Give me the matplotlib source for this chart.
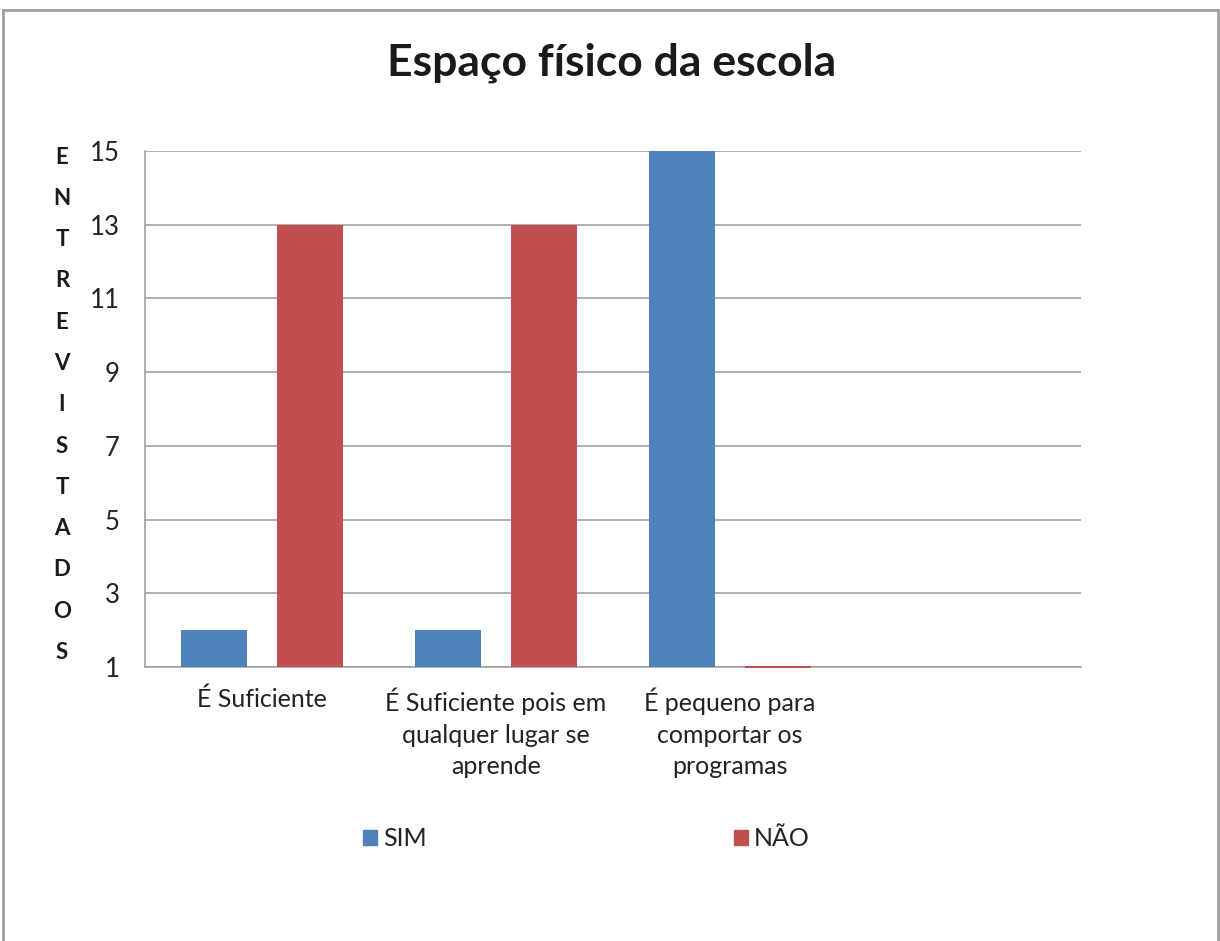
import numpy as np
import matplotlib
matplotlib.use('Agg')
import matplotlib.pyplot as plt
from matplotlib.lines import Line2D
from matplotlib.patches import Patch

plt.rcParams['font.family'] = ['Lato', 'DejaVu Sans']

categories = ['É Suficiente',
              'É Suficiente pois em\nqualquer lugar se\naprende',
              'É pequeno para\ncomportar os\nprogramas',
              '']
sim = [2, 2, 15, np.nan]
nao = [13, 13, 1, np.nan]
series_names = ['SIM', 'NÃO']
yticks = [1, 3, 5, 7, 9, 11, 13, 15]
ylabel = 'ENTREVISTADOS'

blue = '#4F81BD'
red = '#C0504D'
grid = '#9a9a9a'

fig = plt.figure(figsize=(12.2, 9.41), dpi=100)
ax = fig.add_axes([145/1220, 1-667/941, 936/1220, 516/941])

x = np.arange(len(categories))
w = 0.282
off = 0.207
base = 1
ax.bar(x - off, np.array(sim) - base, w, bottom=base, color=blue, zorder=3)
# zero-height bars show as a thin line, like Excel does
lw = [1.5 if v == base else 0 for v in nao]
ax.bar(x + off, np.array(nao) - base, w, bottom=base, color=red, zorder=3,
       edgecolor=red, linewidth=lw, clip_on=False)

ax.set_xlim(-0.5, len(categories) - 0.5)
ax.set_ylim(1, 15)
ax.set_yticks(yticks)
ax.set_xticks(x)
ax.set_xticklabels(categories, fontsize=18, color='#222222', linespacing=1.44,
                   va='top')
ax.tick_params(axis='x', length=0, pad=15)
ax.tick_params(axis='y', length=0, pad=18, labelsize=18.5, labelcolor='#222222')
ax.yaxis.grid(True, color=grid, linewidth=1.1, zorder=0)
for s in ['top', 'right']:
    ax.spines[s].set_visible(False)
ax.spines['left'].set_color(grid)
ax.spines['bottom'].set_color(grid)
ax.spines['left'].set_linewidth(1.1)
ax.spines['bottom'].set_linewidth(1.1)

fig.text(612/1220, 1-63/941, 'Espaço físico da escola', ha='center', va='center',
         fontsize=32, fontweight='bold', color='#1a1a1a')

for i, ch in enumerate(ylabel):
    fig.text(62/1220, 1-(157 + i*41.3)/941, ch, ha='center', va='center',
             fontsize=16, fontweight='bold', color='#1a1a1a')

handles = [Patch(color=blue), Patch(color=red)]
fig.legend(handles, series_names, loc='center left', ncol=2,
           bbox_to_anchor=(363/1220, 1-839/941), frameon=False,
           borderpad=0, borderaxespad=0,
           fontsize=18, handlelength=0.55, handleheight=0.55,
           handletextpad=0.25, columnspacing=12.3, labelcolor='#222222')

# outer chart border
bc = '#a0a0a0'
fig.add_artist(Line2D([3/1220, 3/1220], [0, 1-10/941], color=bc, lw=2,
                      transform=fig.transFigure))
fig.add_artist(Line2D([3/1220, 1218/1220], [1-10/941, 1-10/941], color=bc, lw=2,
                      transform=fig.transFigure))
fig.add_artist(Line2D([1218/1220, 1218/1220], [0, 1-10/941], color=bc, lw=2,
                      transform=fig.transFigure))

fig.savefig('out.png', dpi=100)
